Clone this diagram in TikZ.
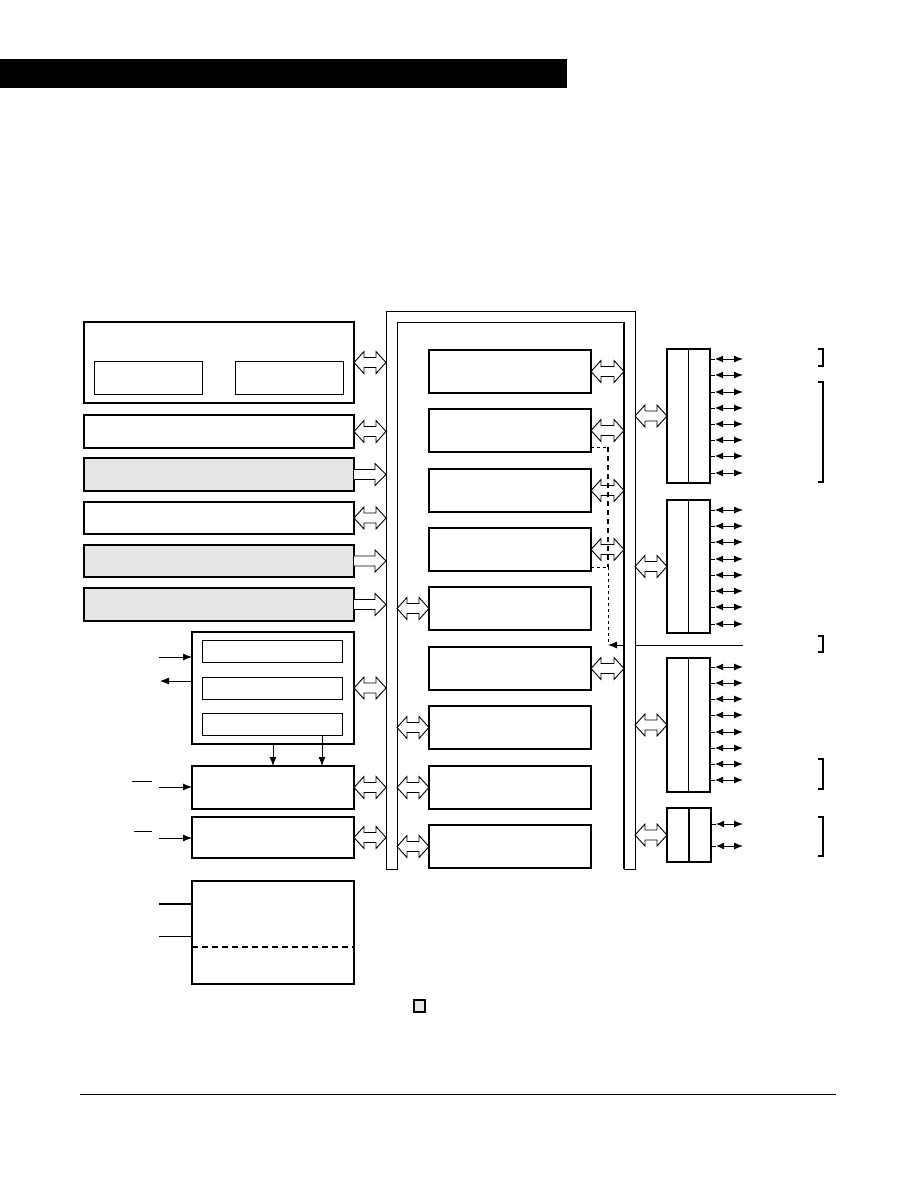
\documentclass[tikz,border=0pt]{standalone}
\usetikzlibrary{calc,arrows.meta}
\definecolor{lgray}{gray}{0.9}
\tikzset{
  blk/.style={draw,line width=1.6pt,rectangle,inner sep=0pt,outer sep=0pt,anchor=north west,fill=white},
  gblk/.style={blk,fill=lgray},
  sub/.style={draw,line width=1pt,rectangle,inner sep=0pt,outer sep=0pt,anchor=north west},
  barr/.style={draw,line width=0.9pt,fill=white,line join=miter},
  sarr/.style={line width=1pt,{Latex[length=8pt,width=7pt]}-{Latex[length=9pt,width=7pt]}},
  inarr/.style={line width=0.9pt,-{Latex[length=9pt,width=7pt]}},
  brk/.style={line width=1.5pt}
}
\newcommand\dblarr[2]{\path (#1) coordinate (da@s) (#2) coordinate (da@e);
  \draw[barr] let \p1=(da@s), \p2=(da@e) in
  (\x1,\y1) -- (\x1+10pt,\y1+11pt) -- (\x1+10pt,\y1+5pt) -- (\x2-10pt,\y1+5pt) -- (\x2-10pt,\y1+11pt)
  -- (\x2,\y1) -- (\x2-10pt,\y1-11pt) -- (\x2-10pt,\y1-5pt) -- (\x1+10pt,\y1-5pt) -- (\x1+10pt,\y1-11pt) -- cycle;}
\newcommand\sglarr[2]{\path (#1) coordinate (da@s) (#2) coordinate (da@e);
  \draw[barr] let \p1=(da@s), \p2=(da@e) in
  (\x1,\y1+5pt) -- (\x2-11pt,\y1+5pt) -- (\x2-11pt,\y1+11pt) -- (\x2,\y1)
  -- (\x2-11pt,\y1-11pt) -- (\x2-11pt,\y1-5pt) -- (\x1,\y1-5pt);}
\begin{document}
\begin{tikzpicture}[x=1pt,y=-1pt]
\useasboundingbox (0,0) rectangle (918,1188);
% header bar
\fill[black] (0,59) rectangle (567,88);
% bottom rule
\draw[line width=1pt] (80,1094) -- (836,1094);

% bus
\coordinate (bLo) at (386,0);
\coordinate (bLi) at (397,0);
\coordinate (bRi) at (624,0);
\coordinate (bRo) at (635,0);
\draw[line width=1pt] (386,869) -- (386,311) -- (635,311) -- (635,869) -- (624,869)
  -- (624,322) -- (397,322) -- (397,869) -- cycle;
\draw[line width=1.8pt] (624,322) -- (624,869);

% left column
\node[blk,minimum width=270pt,minimum height=81pt] (A) at (84,322) {};
\node[sub,minimum width=108pt,minimum height=33pt] (A1) at (94,361) {};
\node[sub,minimum width=108pt,minimum height=33pt] (A2) at (235,361) {};
\node[blk,minimum width=270pt,minimum height=33pt] (B) at (84,415) {};
\node[gblk,minimum width=270pt,minimum height=33pt] (C) at (84,458) {};
\node[blk,minimum width=270pt,minimum height=32pt] (D) at (84,502) {};
\node[gblk,minimum width=270pt,minimum height=32pt] (E) at (84,545) {};
\node[gblk,minimum width=270pt,minimum height=33pt] (F) at (84,588) {};

\dblarr{A.east}{A.east -| bLo}
\dblarr{B.east}{B.east -| bLo}
\sglarr{C.east}{C.east -| bLo}
\dblarr{D.east}{D.east -| bLo}
\sglarr{E.east}{E.east -| bLo}
\sglarr{F.east}{F.east -| bLo}

\node[blk,minimum width=162pt,minimum height=112pt] (G) at (192,632) {};
\node[sub,minimum width=140pt,minimum height=22pt] (G1) at (202,640) {};
\node[sub,minimum width=140pt,minimum height=22pt] (G2) at (202,677) {};
\node[sub,minimum width=140pt,minimum height=22pt] (G3) at (202,713) {};
\node[blk,minimum width=162pt,minimum height=43pt] (H) at (192,766) {};
\node[blk,minimum width=162pt,minimum height=41pt] (I) at (192,817) {};
\node[blk,minimum width=162pt,minimum height=103pt] (J) at (192,881) {};

\dblarr{G.east}{G.east -| bLo}
\dblarr{H.east}{H.east -| bLo}
\dblarr{I.east}{I.east -| bLo}

\coordinate (gin) at (159,657);
\coordinate (gout) at (160,681);
\draw[inarr] (gin) -- (G.west |- gin);
\draw[inarr] (G.west |- gout) -- (gout);
\coordinate (xa) at (273,0);
\coordinate (xb) at (322,0);
\draw[inarr] (G.south -| xa) -- (H.north -| xa);
\draw[inarr] (G3.south -| xb) -- (H.north -| xb);

\coordinate (hin) at (159,787);
\draw[inarr] (hin) -- (H.west |- hin);
\draw[line width=0.9pt] (132,781) -- (152,781);
\coordinate (iin) at (159,838);
\draw[inarr] (iin) -- (I.west |- iin);
\draw[line width=0.9pt] (134,831) -- (152,831);

\coordinate (j1) at (159,904);
\coordinate (j2) at (159,936);
\draw[line width=1.6pt] (j1) -- (J.west |- j1);
\draw[line width=0.9pt] (j2) -- (J.west |- j2);
\coordinate (jd) at (0,947);
\draw[line width=1.6pt,dash pattern=on 6pt off 4pt] (J.west |- jd) -- (J.east |- jd);

% middle column
\foreach \k/\t in {1/350,2/409,3/469,4/528,5/587,6/647,7/706,8/766,9/825}
  {\node[blk,minimum width=162pt,minimum height=43pt] (M\k) at (429,\t) {};}
\foreach \k in {1,2,3,4,6} {\dblarr{M\k.east}{M\k.east -| bRi}}
\foreach \k in {5,7,8,9} {\dblarr{M\k.west -| bLi}{M\k.west}}

% dashed interconnect
\coordinate (dA) at (608,447);
\coordinate (dB) at (608,567);
\coordinate (dC) at (608,645);
\draw[line width=0.8pt,dash pattern=on 3pt off 3pt] ([yshift=5pt]M2.south east) -- (dA);
\draw[line width=0.8pt,dash pattern=on 3pt off 3pt] ([yshift=4pt]M4.south east) -- (dB);
\draw[line width=1.8pt,dash pattern=on 5pt off 4pt] (dA) -- (dB);
\draw[line width=0.8pt,dash pattern=on 3pt off 3pt] (dB) -- (dC);
\draw[inarr] (bRi |- dC) -- (dC);
\draw[line width=0.9pt] (bRo |- dC) -- (743,645);

% right column
\node[blk,minimum width=43pt,minimum height=134pt] (R1) at (667,349) {};
\node[blk,minimum width=43pt,minimum height=133pt] (R2) at (667,500) {};
\node[blk,minimum width=43pt,minimum height=134pt] (R3) at (667,658) {};
\node[blk,minimum width=44pt,minimum height=54pt] (R4) at (667,808) {};
\foreach \k in {1,2,3,4} {
  \draw[line width=1.4pt] (R\k.north) -- (R\k.south);
  \dblarr{R\k.west -| bRo}{R\k.west}
}
\foreach \y in {359,375,392,408,424,440,456,473}
  {\draw[line width=1pt] (R1.east |- 0,\y) -- ++(5,0); \draw[sarr] ($(R1.east |- 0,\y)+(5,0)$) -- ++(28,0);}
\foreach \y in {510,526,542,559,575,591,607,624}
  {\draw[line width=1pt] (R2.east |- 0,\y) -- ++(5,0); \draw[sarr] ($(R2.east |- 0,\y)+(5,0)$) -- ++(28,0);}
\foreach \y in {667,683,699,715,732,748,764,780}
  {\draw[line width=1pt] (R3.east |- 0,\y) -- ++(5,0); \draw[sarr] ($(R3.east |- 0,\y)+(5,0)$) -- ++(28,0);}
\foreach \y in {824,846}
  {\draw[line width=1pt] (R4.east |- 0,\y) -- ++(5,0); \draw[sarr] ($(R4.east |- 0,\y)+(5,0)$) -- ++(27,0);}

% brackets
\foreach \a/\b in {349/366,382/482,636/652,759/789,817/856}
  {\draw[brk] (818,\a) -- (823,\a) -- (823,\b) -- (818,\b);}

% legend square
\node[gblk,line width=1.5pt,minimum width=11pt,minimum height=12pt] (leg) at (414,1000) {};
\end{tikzpicture}
\end{document}
